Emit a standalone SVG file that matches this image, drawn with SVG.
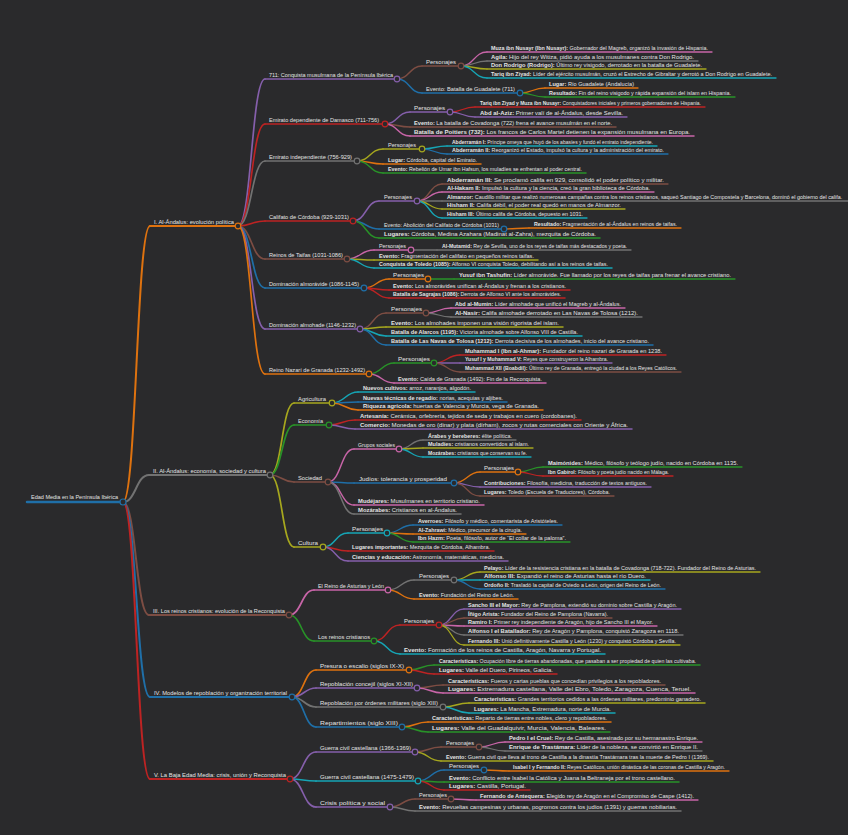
<svg xmlns="http://www.w3.org/2000/svg" width="848" height="835" viewBox="0 0 848 835">
<style>
.t{font-family:"Liberation Sans",Arial,sans-serif;font-size:5.4px;fill:#e4e4e4}
.r0{font-size:6px}
.h{font-weight:bold}
line,path{fill:none;stroke-linecap:round}
circle{fill:#2a2a2c;stroke-width:1.2}
.w0{stroke-width:2.5}.w1{stroke-width:2}.w2{stroke-width:1.7}.w3{stroke-width:1.5}.w4{stroke-width:1.3}
.kb{stroke:#1f6fa8}.ko{stroke:#de720f}.kg{stroke:#289228}.kr{stroke:#bd2323}.kp{stroke:#855fab}
.kn{stroke:#7d4d43}.kk{stroke:#c865a8}.ky{stroke:#727272}.kl{stroke:#a6a71e}.kc{stroke:#16a5b5}
</style>
<rect width="848" height="835" fill="#2a2a2c"/>
<g id="connectors">
<path class="ko w1" d="M123,502C136.5,502 136.5,226 150,226"/>
<path class="ky w1" d="M123,502C136,502 136,475 149,475"/>
<path class="kn w1" d="M123,502C136,502 136,615 149,615"/>
<path class="kb w1" d="M123,502C136.5,502 136.5,697 150,697"/>
<path class="kr w1" d="M123,502C136.5,502 136.5,779 150,779"/>
<path class="kp w2" d="M238,226C251.5,226 251.5,79 265,79"/>
<path class="kr w2" d="M238,226C251.5,226 251.5,124 265,124"/>
<path class="ky w2" d="M238,226C251.5,226 251.5,161 265,161"/>
<path class="kr w2" d="M238,226C251.5,226 251.5,221 265,221"/>
<path class="kn w2" d="M238,226C251.5,226 251.5,259 265,259"/>
<path class="kb w2" d="M238,226C251.5,226 251.5,288 265,288"/>
<path class="kp w2" d="M238,226C251.5,226 251.5,329 265,329"/>
<path class="ko w2" d="M238,226C251.5,226 251.5,374 265,374"/>
<path class="kn w3" d="M397,79C409.5,79 409.5,66 422,66"/>
<path class="kb w3" d="M397,79C409.5,79 409.5,93 422,93"/>
<path class="kk w4" d="M461,66C474,66 474,52 487,52"/>
<path class="ky w4" d="M461,66C474,66 474,61 487,61"/>
<path class="kl w4" d="M461,66C474,66 474,69 487,69"/>
<path class="kc w4" d="M461,66C474,66 474,78 487,78"/>
<path class="ko w4" d="M520,93C532.5,93 532.5,88 545,88"/>
<path class="kg w4" d="M520,93C532.5,93 532.5,97 545,97"/>
<path class="kp w3" d="M385,124C397.5,124 397.5,112 410,112"/>
<path class="kn w3" d="M385,124C397.5,124 397.5,127 410,127"/>
<path class="kk w3" d="M385,124C397.5,124 397.5,136 410,136"/>
<path class="kr w4" d="M450,112C462.5,112 462.5,107 475,107"/>
<path class="kp w4" d="M450,112C462.5,112 462.5,117 475,117"/>
<path class="kl w3" d="M357,161C370,161 370,149 383,149"/>
<path class="ko w3" d="M357,161C370,161 370,164 383,164"/>
<path class="kg w3" d="M357,161C370,161 370,173 383,173"/>
<path class="kc w4" d="M422,149C434.5,149 434.5,146 447,146"/>
<path class="kb w4" d="M422,149C434.5,149 434.5,154 447,154"/>
<path class="kp w3" d="M353,221C366,221 366,201 379,201"/>
<path class="kb w3" d="M353,221C366,221 366,229 379,229"/>
<path class="kg w3" d="M353,221C366,221 366,238 379,238"/>
<path class="kn w4" d="M417,201C429.5,201 429.5,184 442,184"/>
<path class="kk w4" d="M417,201C429.5,201 429.5,192 442,192"/>
<path class="ky w4" d="M417,201C429.5,201 429.5,201 442,201"/>
<path class="kl w4" d="M417,201C429.5,201 429.5,209 442,209"/>
<path class="kc w4" d="M417,201C429.5,201 429.5,218 442,218"/>
<path class="ko w4" d="M504,229C516.5,229 516.5,228 529,228"/>
<path class="kk w3" d="M347,259C360.5,259 360.5,250 374,250"/>
<path class="kl w3" d="M347,259C360.5,259 360.5,260 374,260"/>
<path class="kc w3" d="M347,259C360.5,259 360.5,268 374,268"/>
<path class="ky w4" d="M411,250C424,250 424,250 437,250"/>
<path class="ko w3" d="M364,288C376.5,288 376.5,279 389,279"/>
<path class="kr w3" d="M364,288C376.5,288 376.5,290 389,290"/>
<path class="kr w3" d="M364,288C376.5,288 376.5,298 389,298"/>
<path class="kg w4" d="M428,279C441,279 441,279 454,279"/>
<path class="kn w3" d="M360,329C373,329 373,313 386,313"/>
<path class="kl w3" d="M360,329C373,329 373,327 386,327"/>
<path class="kc w3" d="M360,329C373,329 373,336 386,336"/>
<path class="kb w3" d="M360,329C373,329 373,345 386,345"/>
<path class="kk w4" d="M426,313C438.5,313 438.5,308 451,308"/>
<path class="ky w4" d="M426,313C438.5,313 438.5,317 451,317"/>
<path class="kg w3" d="M369,374C381.5,374 381.5,363 394,363"/>
<path class="kk w3" d="M369,374C381.5,374 381.5,383 394,383"/>
<path class="kr w4" d="M434,363C447,363 447,355 460,355"/>
<path class="kp w4" d="M434,363C447,363 447,363 460,363"/>
<path class="kn w4" d="M434,363C447,363 447,372 460,372"/>
<path class="kl w2" d="M270,475C282,475 282,403 294,403"/>
<path class="kg w2" d="M270,475C282,475 282,425 294,425"/>
<path class="kn w2" d="M270,475C282,475 282,482 294,482"/>
<path class="kl w2" d="M270,475C282,475 282,547 294,547"/>
<path class="kc w3" d="M332,403C345,403 345,392 358,392"/>
<path class="kb w3" d="M332,403C345,403 345,402 358,402"/>
<path class="ko w3" d="M332,403C345,403 345,410 358,410"/>
<path class="kr w3" d="M329,425C342,425 342,420 355,420"/>
<path class="kp w3" d="M329,425C342,425 342,429 355,429"/>
<path class="kk w3" d="M328,482C341,482 341,449 354,449"/>
<path class="kb w3" d="M328,482C341,482 341,483 354,483"/>
<path class="kk w3" d="M328,482C341,482 341,505 354,505"/>
<path class="ky w3" d="M328,482C341,482 341,514 354,514"/>
<path class="ky w4" d="M399,449C411,449 411,440 423,440"/>
<path class="kl w4" d="M399,449C411,449 411,448 423,448"/>
<path class="kc w4" d="M399,449C411,449 411,457 423,457"/>
<path class="ko w4" d="M454,483C467,483 467,472 480,472"/>
<path class="kp w4" d="M454,483C467,483 467,487 480,487"/>
<path class="kn w4" d="M454,483C467,483 467,496 480,496"/>
<path class="kg w4" d="M518,472C530.5,472 530.5,467 543,467"/>
<path class="kr w4" d="M518,472C530.5,472 530.5,476 543,476"/>
<path class="kc w3" d="M323,547C335.5,547 335.5,533 348,533"/>
<path class="kr w3" d="M323,547C335.5,547 335.5,551 348,551"/>
<path class="kp w3" d="M323,547C335.5,547 335.5,561 348,561"/>
<path class="kb w4" d="M387,533C400,533 400,525 413,525"/>
<path class="ko w4" d="M387,533C400,533 400,534 413,534"/>
<path class="kg w4" d="M387,533C400,533 400,542 413,542"/>
<path class="kk w2" d="M289,615C301.5,615 301.5,590 314,590"/>
<path class="kg w2" d="M289,615C301.5,615 301.5,641 314,641"/>
<path class="ky w3" d="M388,590C401,590 401,580 414,580"/>
<path class="ko w3" d="M388,590C401,590 401,599 414,599"/>
<path class="kl w4" d="M454,580C467,580 467,572 480,572"/>
<path class="kc w4" d="M454,580C467,580 467,580 480,580"/>
<path class="kb w4" d="M454,580C467,580 467,589 480,589"/>
<path class="kr w3" d="M374,641C387,641 387,625 400,625"/>
<path class="kc w3" d="M374,641C387,641 387,654 400,654"/>
<path class="kp w4" d="M439,625C451.5,625 451.5,609 464,609"/>
<path class="kn w4" d="M439,625C451.5,625 451.5,618 464,618"/>
<path class="kk w4" d="M439,625C451.5,625 451.5,626 464,626"/>
<path class="ky w4" d="M439,625C451.5,625 451.5,635 464,635"/>
<path class="kl w4" d="M439,625C451.5,625 451.5,645 464,645"/>
<path class="ko w2" d="M292,697C304,697 304,670 316,670"/>
<path class="kp w2" d="M292,697C304,697 304,688 316,688"/>
<path class="ky w2" d="M292,697C304,697 304,707 316,707"/>
<path class="kb w2" d="M292,697C304,697 304,727 316,727"/>
<path class="kg w3" d="M409,670C421.5,670 421.5,665 434,665"/>
<path class="kr w3" d="M409,670C421.5,670 421.5,674 434,674"/>
<path class="kn w3" d="M417,688C430,688 430,685 443,685"/>
<path class="kk w3" d="M417,688C430,688 430,693 443,693"/>
<path class="kl w3" d="M443,707C456,707 456,703 469,703"/>
<path class="kc w3" d="M443,707C456,707 456,713 469,713"/>
<path class="ko w3" d="M402,727C415,727 415,722 428,722"/>
<path class="kg w3" d="M402,727C415,727 415,732 428,732"/>
<path class="kp w2" d="M290,779C303,779 303,752 316,752"/>
<path class="kc w2" d="M290,779C303,779 303,781 316,781"/>
<path class="kp w2" d="M290,779C303,779 303,807 316,807"/>
<path class="kn w3" d="M415,752C428,752 428,747 441,747"/>
<path class="kl w3" d="M415,752C428,752 428,761 441,761"/>
<path class="kk w4" d="M479,747C492,747 492,742 505,742"/>
<path class="ky w4" d="M479,747C492,747 492,751 505,751"/>
<path class="kb w3" d="M418,781C431,781 431,770 444,770"/>
<path class="kg w3" d="M418,781C431,781 431,782 444,782"/>
<path class="kr w3" d="M418,781C431,781 431,790 444,790"/>
<path class="ko w4" d="M484,770C496.5,770 496.5,771 509,771"/>
<path class="kn w3" d="M390,807C402.5,807 402.5,799 415,799"/>
<path class="ky w3" d="M390,807C402.5,807 402.5,811 415,811"/>
<path class="kk w4" d="M451,799C463.5,799 463.5,800 476,800"/>
</g>

<g id="root"><line class="kb w0" x1="27" y1="502" x2="123" y2="502"/><text class="t r0" x="31" y="499" textLength="87" lengthAdjust="spacingAndGlyphs">Edad Media en la Península Ibérica</text><circle class="kb" cx="123" cy="502" r="3"/></g>

<g id="n1"><line class="ko w1" x1="150" y1="226" x2="238" y2="226"/><text class="t" x="154" y="223.5" textLength="80" lengthAdjust="spacingAndGlyphs">I. Al-Ándalus: evolución política</text><circle class="ko" cx="238" cy="226" r="2.8"/></g>
<g id="n1a"><line class="kp w2" x1="265" y1="79" x2="397" y2="79"/><text class="t" x="269" y="76.5" textLength="124" lengthAdjust="spacingAndGlyphs">711: Conquista musulmana de la Península Ibérica</text><circle class="kp" cx="397" cy="79" r="2.8"/></g>
<g id="n1a1"><line class="kn w3" x1="422" y1="66" x2="461" y2="66"/><text class="t" x="426" y="63.5" textLength="30" lengthAdjust="spacingAndGlyphs">Personajes</text><circle class="kn" cx="461" cy="66" r="2.8"/></g>
<g id="n1a1a"><line class="kk w4" x1="487" y1="52" x2="712" y2="52"/><text class="t" x="491" y="49.5" textLength="217" lengthAdjust="spacingAndGlyphs"><tspan class="h">Muza ibn Nusayr (Ibn Nusayr):</tspan> Gobernador del Magreb, organizó la invasión de Hispania.</text></g>
<g id="n1a1b"><line class="ky w4" x1="487" y1="61" x2="698" y2="61"/><text class="t" x="491" y="58.5" textLength="203" lengthAdjust="spacingAndGlyphs"><tspan class="h">Agila:</tspan> Hijo del rey Witiza, pidió ayuda a los musulmanes contra Don Rodrigo.</text></g>
<g id="n1a1c"><line class="kl w4" x1="487" y1="69" x2="706" y2="69"/><text class="t" x="491" y="66.5" textLength="211" lengthAdjust="spacingAndGlyphs"><tspan class="h">Don Rodrigo (Rodrigo):</tspan> Último rey visigodo, derrotado en la batalla de Guadalete.</text></g>
<g id="n1a1d"><line class="kc w4" x1="487" y1="78" x2="776" y2="78"/><text class="t" x="491" y="75.5" textLength="281" lengthAdjust="spacingAndGlyphs"><tspan class="h">Tariq ibn Ziyad:</tspan> Líder del ejército musulmán, cruzó el Estrecho de Gibraltar y derrotó a Don Rodrigo en Guadalete.</text></g>
<g id="n1a2"><line class="kb w3" x1="422" y1="93" x2="520" y2="93"/><text class="t" x="426" y="90.5" textLength="89" lengthAdjust="spacingAndGlyphs">Evento: Batalla de Guadalete (711)</text><circle class="kb" cx="520" cy="93" r="2.8"/></g>
<g id="n1a2a"><line class="ko w4" x1="545" y1="88" x2="638" y2="88"/><text class="t" x="549" y="85.5" textLength="85" lengthAdjust="spacingAndGlyphs"><tspan class="h">Lugar:</tspan> Río Guadalete (Andalucía)</text></g>
<g id="n1a2b"><line class="kg w4" x1="545" y1="97" x2="735" y2="97"/><text class="t" x="549" y="94.5" textLength="182" lengthAdjust="spacingAndGlyphs"><tspan class="h">Resultado:</tspan> Fin del reino visigodo y rápida expansión del islam en Hispania.</text></g>

<g id="n1b"><line class="kr w2" x1="265" y1="124" x2="385" y2="124"/><text class="t" x="269" y="121.5" textLength="110" lengthAdjust="spacingAndGlyphs">Emirato dependiente de Damasco (711-756)</text><circle class="kr" cx="385" cy="124" r="2.8"/></g>
<g id="n1b1"><line class="kp w3" x1="410" y1="112" x2="450" y2="112"/><text class="t" x="414" y="109.5" textLength="31" lengthAdjust="spacingAndGlyphs">Personajes</text><circle class="kp" cx="450" cy="112" r="2.8"/></g>
<g id="n1b1a"><line class="kr w4" x1="475" y1="107" x2="705" y2="107"/><text class="t" x="480" y="104.5" textLength="221" lengthAdjust="spacingAndGlyphs"><tspan class="h">Tariq ibn Ziyad y Muza ibn Nusayr:</tspan> Conquistadores iniciales y primeros gobernadores de Hispania.</text></g>
<g id="n1b1b"><line class="kp w4" x1="475" y1="117" x2="627" y2="117"/><text class="t" x="480" y="114.5" textLength="143" lengthAdjust="spacingAndGlyphs"><tspan class="h">Abd al-Aziz:</tspan> Primer valí de al-Ándalus, desde Sevilla.</text></g>
<g id="n1b2"><line class="kn w3" x1="410" y1="127" x2="616" y2="127"/><text class="t" x="414" y="124.5" textLength="198" lengthAdjust="spacingAndGlyphs"><tspan class="h">Evento:</tspan> La batalla de Covadonga (722) frena el avance musulmán en el norte.</text></g>
<g id="n1b3"><line class="kk w3" x1="410" y1="136" x2="694" y2="136"/><text class="t" x="414" y="133.5" textLength="276" lengthAdjust="spacingAndGlyphs"><tspan class="h">Batalla de Poitiers (732):</tspan> Los francos de Carlos Martel detienen la expansión musulmana en Europa.</text></g>

<g id="n1c"><line class="ky w2" x1="265" y1="161" x2="357" y2="161"/><text class="t" x="269" y="158.5" textLength="83" lengthAdjust="spacingAndGlyphs">Emirato independiente (756-929)</text><circle class="ky" cx="357" cy="161" r="2.8"/></g>
<g id="n1c1"><line class="kl w3" x1="383" y1="149" x2="422" y2="149"/><text class="t" x="388" y="146.5" textLength="28" lengthAdjust="spacingAndGlyphs">Personajes</text><circle class="kl" cx="422" cy="149" r="2.8"/></g>
<g id="n1c1a"><line class="kc w4" x1="447" y1="146" x2="657" y2="146"/><text class="t" x="452" y="143.5" textLength="201" lengthAdjust="spacingAndGlyphs"><tspan class="h">Abderramán I:</tspan> Príncipe omeya que huyó de los abasíes y fundó el emirato independiente.</text></g>
<g id="n1c1b"><line class="kb w4" x1="447" y1="154" x2="668" y2="154"/><text class="t" x="452" y="151.5" textLength="212" lengthAdjust="spacingAndGlyphs"><tspan class="h">Abderramán II:</tspan> Reorganizó el Estado, impulsó la cultura y la administración del emirato.</text></g>
<g id="n1c2"><line class="ko w3" x1="383" y1="164" x2="481" y2="164"/><text class="t" x="388" y="161.5" textLength="89" lengthAdjust="spacingAndGlyphs"><tspan class="h">Lugar:</tspan> Córdoba, capital del Emirato.</text></g>
<g id="n1c3"><line class="kg w3" x1="383" y1="173" x2="586" y2="173"/><text class="t" x="388" y="170.5" textLength="194" lengthAdjust="spacingAndGlyphs"><tspan class="h">Evento:</tspan> Rebelión de Umar ibn Hafsun, los muladíes se enfrentan al poder central.</text></g>

<g id="n1d"><line class="kr w2" x1="265" y1="221" x2="353" y2="221"/><text class="t" x="269" y="218.5" textLength="80" lengthAdjust="spacingAndGlyphs">Califato de Córdoba (929-1031)</text><circle class="kr" cx="353" cy="221" r="2.8"/></g>
<g id="n1d1"><line class="kp w3" x1="379" y1="201" x2="417" y2="201"/><text class="t" x="384" y="198.5" textLength="28" lengthAdjust="spacingAndGlyphs">Personajes</text><circle class="kp" cx="417" cy="201" r="2.8"/></g>
<g id="n1d1a"><line class="kn w4" x1="442" y1="184" x2="668" y2="184"/><text class="t" x="447" y="181.5" textLength="217" lengthAdjust="spacingAndGlyphs"><tspan class="h">Abderramán III:</tspan> Se proclamó califa en 929, consolidó el poder político y militar.</text></g>
<g id="n1d1b"><line class="kk w4" x1="442" y1="192" x2="654" y2="192"/><text class="t" x="447" y="189.5" textLength="203" lengthAdjust="spacingAndGlyphs"><tspan class="h">Al-Hakam II:</tspan> Impulsó la cultura y la ciencia, creó la gran biblioteca de Córdoba.</text></g>
<g id="n1d1c"><line class="ky w4" x1="442" y1="201" x2="850" y2="201"/><text class="t" x="447" y="198.5"><tspan class="h">Almanzor:</tspan> Caudillo militar que realizó numerosas campañas contra los reinos cristianos, saqueó Santiago de Compostela y Barcelona, dominó el gobierno del califa.</text></g>
<g id="n1d1d"><line class="kl w4" x1="442" y1="209" x2="625" y2="209"/><text class="t" x="447" y="206.5" textLength="174" lengthAdjust="spacingAndGlyphs"><tspan class="h">Hisham II:</tspan> Califa débil, el poder real quedó en manos de Almanzor.</text></g>
<g id="n1d1e"><line class="kc w4" x1="442" y1="218" x2="587" y2="218"/><text class="t" x="447" y="215.5" textLength="136" lengthAdjust="spacingAndGlyphs"><tspan class="h">Hisham III:</tspan> Último califa de Córdoba, depuesto en 1031.</text></g>
<g id="n1d2"><line class="kb w3" x1="379" y1="229" x2="504" y2="229"/><text class="t" x="384" y="226.5" textLength="115" lengthAdjust="spacingAndGlyphs">Evento: Abolición del Califato de Córdoba (1031)</text><circle class="kb" cx="504" cy="229" r="2.8"/></g>
<g id="n1d2a"><line class="ko w4" x1="529" y1="228" x2="681" y2="228"/><text class="t" x="534" y="225.5" textLength="143" lengthAdjust="spacingAndGlyphs"><tspan class="h">Resultado:</tspan> Fragmentación de al-Ándalus en reinos de taifas.</text></g>
<g id="n1d3"><line class="kg w3" x1="379" y1="238" x2="600" y2="238"/><text class="t" x="384" y="235.5" textLength="212" lengthAdjust="spacingAndGlyphs"><tspan class="h">Lugares:</tspan> Córdoba, Medina Azahara (Madinat al-Zahra), mezquita de Córdoba.</text></g>

<g id="n1e"><line class="kn w2" x1="265" y1="259" x2="347" y2="259"/><text class="t" x="269" y="256.5" textLength="74" lengthAdjust="spacingAndGlyphs">Reinos de Taifas (1031-1086)</text><circle class="kn" cx="347" cy="259" r="2.8"/></g>
<g id="n1e1"><line class="kk w3" x1="374" y1="250" x2="411" y2="250"/><text class="t" x="379" y="247.5" textLength="27" lengthAdjust="spacingAndGlyphs">Personajes</text><circle class="kk" cx="411" cy="250" r="2.8"/></g>
<g id="n1e1a"><line class="ky w4" x1="437" y1="250" x2="631" y2="250"/><text class="t" x="442" y="247.5" textLength="185" lengthAdjust="spacingAndGlyphs"><tspan class="h">Al-Mutamid:</tspan> Rey de Sevilla, uno de los reyes de taifas más destacados y poeta.</text></g>
<g id="n1e2"><line class="kl w3" x1="374" y1="260" x2="538" y2="260"/><text class="t" x="379" y="257.5" textLength="155" lengthAdjust="spacingAndGlyphs"><tspan class="h">Evento:</tspan> Fragmentación del califato en pequeños reinos taifas.</text></g>
<g id="n1e3"><line class="kc w3" x1="374" y1="268" x2="612" y2="268"/><text class="t" x="379" y="265.5" textLength="229" lengthAdjust="spacingAndGlyphs"><tspan class="h">Conquista de Toledo (1085):</tspan> Alfonso VI conquista Toledo, debilitando así a los reinos de taifas.</text></g>

<g id="n1f"><line class="kb w2" x1="265" y1="288" x2="364" y2="288"/><text class="t" x="269" y="285.5" textLength="90" lengthAdjust="spacingAndGlyphs">Dominación almorávide (1086-1145)</text><circle class="kb" cx="364" cy="288" r="2.8"/></g>
<g id="n1f1"><line class="ko w3" x1="389" y1="279" x2="428" y2="279"/><text class="t" x="393" y="276.5" textLength="31" lengthAdjust="spacingAndGlyphs">Personajes</text><circle class="ko" cx="428" cy="279" r="2.8"/></g>
<g id="n1f1a"><line class="kg w4" x1="454" y1="279" x2="735" y2="279"/><text class="t" x="459" y="276.5" textLength="272" lengthAdjust="spacingAndGlyphs"><tspan class="h">Yusuf ibn Tashufin:</tspan> Líder almorávide. Fue llamado por los reyes de taifas para frenar el avance cristiano.</text></g>
<g id="n1f2"><line class="kr w3" x1="389" y1="290" x2="570" y2="290"/><text class="t" x="393" y="287.5" textLength="173" lengthAdjust="spacingAndGlyphs"><tspan class="h">Evento:</tspan> Los almorávides unifican al-Ándalus y frenan a los cristianos.</text></g>
<g id="n1f3"><line class="kr w3" x1="389" y1="298" x2="565" y2="298"/><text class="t" x="393" y="295.5" textLength="168" lengthAdjust="spacingAndGlyphs"><tspan class="h">Batalla de Sagrajas (1086):</tspan> Derrota de Alfonso VI ante los almorávides.</text></g>

<g id="n1g"><line class="kp w2" x1="265" y1="329" x2="360" y2="329"/><text class="t" x="269" y="326.5" textLength="87" lengthAdjust="spacingAndGlyphs">Dominación almohade (1146-1232)</text><circle class="kp" cx="360" cy="329" r="2.8"/></g>
<g id="n1g1"><line class="kn w3" x1="386" y1="313" x2="426" y2="313"/><text class="t" x="391" y="310.5" textLength="31" lengthAdjust="spacingAndGlyphs">Personajes</text><circle class="kn" cx="426" cy="313" r="2.8"/></g>
<g id="n1g1a"><line class="kk w4" x1="451" y1="308" x2="625" y2="308"/><text class="t" x="455" y="305.5" textLength="166" lengthAdjust="spacingAndGlyphs"><tspan class="h">Abd al-Mumin:</tspan> Líder almohade que unificó el Magreb y al-Ándalus.</text></g>
<g id="n1g1b"><line class="ky w4" x1="451" y1="317" x2="642" y2="317"/><text class="t" x="455" y="314.5" textLength="183" lengthAdjust="spacingAndGlyphs"><tspan class="h">Al-Nasir:</tspan> Califa almohade derrotado en Las Navas de Tolosa (1212).</text></g>
<g id="n1g2"><line class="kl w3" x1="386" y1="327" x2="563" y2="327"/><text class="t" x="391" y="324.5" textLength="168" lengthAdjust="spacingAndGlyphs"><tspan class="h">Evento:</tspan> Los almohades imponen una visión rigorista del islam.</text></g>
<g id="n1g3"><line class="kc w3" x1="386" y1="336" x2="582" y2="336"/><text class="t" x="391" y="333.5" textLength="187" lengthAdjust="spacingAndGlyphs"><tspan class="h">Batalla de Alarcos (1195):</tspan> Victoria almohade sobre Alfonso VIII de Castilla.</text></g>
<g id="n1g4"><line class="kb w3" x1="386" y1="345" x2="653" y2="345"/><text class="t" x="391" y="342.5" textLength="258" lengthAdjust="spacingAndGlyphs"><tspan class="h">Batalla de Las Navas de Tolosa (1212):</tspan> Derrota decisiva de los almohades, inicio del avance cristiano.</text></g>

<g id="n1h"><line class="ko w2" x1="265" y1="374" x2="369" y2="374"/><text class="t" x="269" y="371.5" textLength="96" lengthAdjust="spacingAndGlyphs">Reino Nazarí de Granada (1232-1492)</text><circle class="ko" cx="369" cy="374" r="2.8"/></g>
<g id="n1h1"><line class="kg w3" x1="394" y1="363" x2="434" y2="363"/><text class="t" x="398" y="360.5" textLength="32" lengthAdjust="spacingAndGlyphs">Personajes</text><circle class="kg" cx="434" cy="363" r="2.8"/></g>
<g id="n1h1a"><line class="kr w4" x1="460" y1="355" x2="666" y2="355"/><text class="t" x="465" y="352.5" textLength="197" lengthAdjust="spacingAndGlyphs"><tspan class="h">Muhammad I (Ibn al-Ahmar):</tspan> Fundador del reino nazarí de Granada en 1238.</text></g>
<g id="n1h1b"><line class="kp w4" x1="460" y1="363" x2="612" y2="363"/><text class="t" x="465" y="360.5" textLength="143" lengthAdjust="spacingAndGlyphs"><tspan class="h">Yusuf I y Muhammad V:</tspan> Reyes que construyeron la Alhambra.</text></g>
<g id="n1h1c"><line class="kn w4" x1="460" y1="372" x2="681" y2="372"/><text class="t" x="465" y="369.5" textLength="212" lengthAdjust="spacingAndGlyphs"><tspan class="h">Muhammad XII (Boabdil):</tspan> Último rey de Granada, entregó la ciudad a los Reyes Católicos.</text></g>
<g id="n1h2"><line class="kk w3" x1="394" y1="383" x2="546" y2="383"/><text class="t" x="398" y="380.5" textLength="144" lengthAdjust="spacingAndGlyphs"><tspan class="h">Evento:</tspan> Caída de Granada (1492): Fin de la Reconquista.</text></g>

<g id="n2"><line class="ky w1" x1="149" y1="475" x2="270" y2="475"/><text class="t" x="153" y="472.5" textLength="113" lengthAdjust="spacingAndGlyphs">II. Al-Ándalus: economía, sociedad y cultura</text><circle class="ky" cx="270" cy="475" r="2.8"/></g>
<g id="n2a"><line class="kl w2" x1="294" y1="403" x2="332" y2="403"/><text class="t" x="298" y="400.5" textLength="28" lengthAdjust="spacingAndGlyphs">Agricultura</text><circle class="kl" cx="332" cy="403" r="2.8"/></g>
<g id="n2a1"><line class="kc w3" x1="358" y1="392" x2="475" y2="392"/><text class="t" x="363" y="389.5" textLength="108" lengthAdjust="spacingAndGlyphs"><tspan class="h">Nuevos cultivos:</tspan> arroz, naranjos, algodón.</text></g>
<g id="n2a2"><line class="kb w3" x1="358" y1="402" x2="507" y2="402"/><text class="t" x="363" y="399.5" textLength="140" lengthAdjust="spacingAndGlyphs"><tspan class="h">Nuevas técnicas de regadío:</tspan> norias, acequias y aljibes.</text></g>
<g id="n2a3"><line class="ko w3" x1="358" y1="410" x2="543" y2="410"/><text class="t" x="363" y="407.5" textLength="176" lengthAdjust="spacingAndGlyphs"><tspan class="h">Riqueza agrícola:</tspan> huertas de Valencia y Murcia, vega de Granada.</text></g>
<g id="n2b"><line class="kg w2" x1="294" y1="425" x2="329" y2="425"/><text class="t" x="298" y="422.5" textLength="25" lengthAdjust="spacingAndGlyphs">Economía</text><circle class="kg" cx="329" cy="425" r="2.8"/></g>
<g id="n2b1"><line class="kr w3" x1="355" y1="420" x2="581" y2="420"/><text class="t" x="360" y="417.5" textLength="217" lengthAdjust="spacingAndGlyphs"><tspan class="h">Artesanía:</tspan> Cerámica, orfebrería, tejidos de seda y trabajos en cuero (cordobanes).</text></g>
<g id="n2b2"><line class="kp w3" x1="355" y1="429" x2="632" y2="429"/><text class="t" x="360" y="426.5" textLength="268" lengthAdjust="spacingAndGlyphs"><tspan class="h">Comercio:</tspan> Monedas de oro (dinar) y plata (dírham), zocos y rutas comerciales con Oriente y África.</text></g>
<g id="n2c"><line class="kn w2" x1="294" y1="482" x2="328" y2="482"/><text class="t" x="298" y="479.5" textLength="24" lengthAdjust="spacingAndGlyphs">Sociedad</text><circle class="kn" cx="328" cy="482" r="2.8"/></g>
<g id="n2c1"><line class="kk w3" x1="354" y1="449" x2="399" y2="449"/><text class="t" x="358" y="446.5" textLength="37" lengthAdjust="spacingAndGlyphs">Grupos sociales</text><circle class="kk" cx="399" cy="449" r="2.8"/></g>
<g id="n2c1a"><line class="ky w4" x1="423" y1="440" x2="516" y2="440"/><text class="t" x="428" y="437.5" textLength="84" lengthAdjust="spacingAndGlyphs"><tspan class="h">Árabes y bereberes:</tspan> élite política.</text></g>
<g id="n2c1b"><line class="kl w4" x1="423" y1="448" x2="533" y2="448"/><text class="t" x="428" y="445.5" textLength="101" lengthAdjust="spacingAndGlyphs"><tspan class="h">Muladíes:</tspan> cristianos convertidos al islam.</text></g>
<g id="n2c1c"><line class="kc w4" x1="423" y1="457" x2="531" y2="457"/><text class="t" x="428" y="454.5" textLength="99" lengthAdjust="spacingAndGlyphs"><tspan class="h">Mozárabes:</tspan> cristianos que conservan su fe.</text></g>
<g id="n2c2"><line class="kb w3" x1="354" y1="483" x2="454" y2="483"/><text class="t" x="359" y="480.5" textLength="88" lengthAdjust="spacingAndGlyphs">Judíos: tolerancia y prosperidad</text><circle class="kb" cx="454" cy="483" r="2.8"/></g>
<g id="n2c2a"><line class="ko w4" x1="480" y1="472" x2="518" y2="472"/><text class="t" x="484" y="469.5" textLength="30" lengthAdjust="spacingAndGlyphs">Personajes</text><circle class="ko" cx="518" cy="472" r="2.8"/></g>
<g id="n2c2a1"><line class="kg w4" x1="543" y1="467" x2="742" y2="467"/><text class="t" x="548" y="464.5" textLength="190" lengthAdjust="spacingAndGlyphs"><tspan class="h">Maimónides:</tspan> Médico, filósofo y teólogo judío, nacido en Córdoba en 1135.</text></g>
<g id="n2c2a2"><line class="kr w4" x1="543" y1="476" x2="673" y2="476"/><text class="t" x="548" y="473.5" textLength="121" lengthAdjust="spacingAndGlyphs"><tspan class="h">Ibn Gabirol:</tspan> Filósofo y poeta judío nacido en Málaga.</text></g>
<g id="n2c2b"><line class="kp w4" x1="480" y1="487" x2="651" y2="487"/><text class="t" x="484" y="484.5" textLength="163" lengthAdjust="spacingAndGlyphs"><tspan class="h">Contribuciones:</tspan> Filosofía, medicina, traducción de textos antiguos.</text></g>
<g id="n2c2c"><line class="kn w4" x1="480" y1="496" x2="614" y2="496"/><text class="t" x="484" y="493.5" textLength="126" lengthAdjust="spacingAndGlyphs"><tspan class="h">Lugares:</tspan> Toledo (Escuela de Traductores), Córdoba.</text></g>
<g id="n2c3"><line class="kk w3" x1="354" y1="505" x2="484" y2="505"/><text class="t" x="358" y="502.5" textLength="122" lengthAdjust="spacingAndGlyphs"><tspan class="h">Mudéjares:</tspan> Musulmanes en territorio cristiano.</text></g>
<g id="n2c4"><line class="ky w3" x1="354" y1="514" x2="461" y2="514"/><text class="t" x="358" y="511.5" textLength="99" lengthAdjust="spacingAndGlyphs"><tspan class="h">Mozárabes:</tspan> Cristianos en al-Ándalus.</text></g>
<g id="n2d"><line class="kl w2" x1="294" y1="547" x2="323" y2="547"/><text class="t" x="298" y="544.5" textLength="20" lengthAdjust="spacingAndGlyphs">Cultura</text><circle class="kl" cx="323" cy="547" r="2.8"/></g>
<g id="n2d1"><line class="kc w3" x1="348" y1="533" x2="387" y2="533"/><text class="t" x="352" y="530.5" textLength="31" lengthAdjust="spacingAndGlyphs">Personajes</text><circle class="kc" cx="387" cy="533" r="2.8"/></g>
<g id="n2d1a"><line class="kb w4" x1="413" y1="525" x2="562" y2="525"/><text class="t" x="418" y="522.5" textLength="140" lengthAdjust="spacingAndGlyphs"><tspan class="h">Averroes:</tspan> Filósofo y médico, comentarista de Aristóteles.</text></g>
<g id="n2d1b"><line class="ko w4" x1="413" y1="534" x2="526" y2="534"/><text class="t" x="418" y="531.5" textLength="104" lengthAdjust="spacingAndGlyphs"><tspan class="h">Al-Zahrawi:</tspan> Médico, precursor de la cirugía.</text></g>
<g id="n2d1c"><line class="kg w4" x1="413" y1="542" x2="570" y2="542"/><text class="t" x="418" y="539.5" textLength="148" lengthAdjust="spacingAndGlyphs"><tspan class="h">Ibn Hazm:</tspan> Poeta, filósofo, autor de “El collar de la paloma”.</text></g>
<g id="n2d2"><line class="kr w3" x1="348" y1="551" x2="494" y2="551"/><text class="t" x="352" y="548.5" textLength="138" lengthAdjust="spacingAndGlyphs"><tspan class="h">Lugares importantes:</tspan> Mezquita de Córdoba, Alhambra.</text></g>
<g id="n2d3"><line class="kp w3" x1="348" y1="561" x2="508" y2="561"/><text class="t" x="352" y="558.5" textLength="152" lengthAdjust="spacingAndGlyphs"><tspan class="h">Ciencias y educación:</tspan> Astronomía, matemáticas, medicina.</text></g>

<g id="n3"><line class="kn w1" x1="149" y1="615" x2="289" y2="615"/><text class="t" x="153" y="612.5" textLength="132" lengthAdjust="spacingAndGlyphs">III. Los reinos cristianos: evolución de la Reconquista</text><circle class="kn" cx="289" cy="615" r="2.8"/></g>
<g id="n3a"><line class="kk w2" x1="314" y1="590" x2="388" y2="590"/><text class="t" x="318" y="587.5" textLength="66" lengthAdjust="spacingAndGlyphs">El Reino de Asturias y León</text><circle class="kk" cx="388" cy="590" r="2.8"/></g>
<g id="n3a1"><line class="ky w3" x1="414" y1="580" x2="454" y2="580"/><text class="t" x="419" y="577.5" textLength="30" lengthAdjust="spacingAndGlyphs">Personajes</text><circle class="ky" cx="454" cy="580" r="2.8"/></g>
<g id="n3a1a"><line class="kl w4" x1="480" y1="572" x2="760" y2="572"/><text class="t" x="484" y="569.5" textLength="272" lengthAdjust="spacingAndGlyphs"><tspan class="h">Pelayo:</tspan> Líder de la resistencia cristiana en la batalla de Covadonga (718-722). Fundador del Reino de Asturias.</text></g>
<g id="n3a1b"><line class="kc w4" x1="480" y1="580" x2="650" y2="580"/><text class="t" x="484" y="577.5" textLength="162" lengthAdjust="spacingAndGlyphs"><tspan class="h">Alfonso III:</tspan> Expandió el reino de Asturias hasta el río Duero.</text></g>
<g id="n3a1c"><line class="kb w4" x1="480" y1="589" x2="665" y2="589"/><text class="t" x="484" y="586.5" textLength="177" lengthAdjust="spacingAndGlyphs"><tspan class="h">Ordoño II:</tspan> Trasladó la capital de Oviedo a León, origen del Reino de León.</text></g>
<g id="n3a2"><line class="ko w3" x1="414" y1="599" x2="518" y2="599"/><text class="t" x="419" y="596.5" textLength="95" lengthAdjust="spacingAndGlyphs"><tspan class="h">Evento:</tspan> Fundación del Reino de León.</text></g>
<g id="n3b"><line class="kg w2" x1="314" y1="641" x2="374" y2="641"/><text class="t" x="318" y="638.5" textLength="52" lengthAdjust="spacingAndGlyphs">Los reinos cristianos</text><circle class="kg" cx="374" cy="641" r="2.8"/></g>
<g id="n3b1"><line class="kr w3" x1="400" y1="625" x2="439" y2="625"/><text class="t" x="404" y="622.5" textLength="30" lengthAdjust="spacingAndGlyphs">Personajes</text><circle class="kr" cx="439" cy="625" r="2.8"/></g>
<g id="n3b1a"><line class="kp w4" x1="464" y1="609" x2="681" y2="609"/><text class="t" x="468" y="606.5" textLength="209" lengthAdjust="spacingAndGlyphs"><tspan class="h">Sancho III el Mayor:</tspan> Rey de Pamplona, extendió su dominio sobre Castilla y Aragón.</text></g>
<g id="n3b1b"><line class="kn w4" x1="464" y1="618" x2="612" y2="618"/><text class="t" x="468" y="615.5" textLength="140" lengthAdjust="spacingAndGlyphs"><tspan class="h">Íñigo Arista:</tspan> Fundador del Reino de Pamplona (Navarra).</text></g>
<g id="n3b1c"><line class="kk w4" x1="464" y1="626" x2="657" y2="626"/><text class="t" x="468" y="623.5" textLength="185" lengthAdjust="spacingAndGlyphs"><tspan class="h">Ramiro I:</tspan> Primer rey independiente de Aragón, hijo de Sancho III el Mayor.</text></g>
<g id="n3b1d"><line class="ky w4" x1="464" y1="635" x2="683" y2="635"/><text class="t" x="468" y="632.5" textLength="211" lengthAdjust="spacingAndGlyphs"><tspan class="h">Alfonso I el Batallador:</tspan> Rey de Aragón y Pamplona, conquistó Zaragoza en 1118.</text></g>
<g id="n3b1e"><line class="kl w4" x1="464" y1="645" x2="680" y2="645"/><text class="t" x="468" y="642.5" textLength="208" lengthAdjust="spacingAndGlyphs"><tspan class="h">Fernando III:</tspan> Unió definitivamente Castilla y León (1230) y conquistó Córdoba y Sevilla.</text></g>
<g id="n3b2"><line class="kc w3" x1="400" y1="654" x2="605" y2="654"/><text class="t" x="404" y="651.5" textLength="197" lengthAdjust="spacingAndGlyphs"><tspan class="h">Evento:</tspan> Formación de los reinos de Castilla, Aragón, Navarra y Portugal.</text></g>

<g id="n4"><line class="kb w1" x1="150" y1="697" x2="292" y2="697"/><text class="t" x="154" y="694.5" textLength="133" lengthAdjust="spacingAndGlyphs">IV. Modelos de repoblación y organización territorial</text><circle class="kb" cx="292" cy="697" r="2.8"/></g>
<g id="n4a"><line class="ko w2" x1="316" y1="670" x2="409" y2="670"/><text class="t" x="320" y="667.5" textLength="84" lengthAdjust="spacingAndGlyphs">Presura o escalio (siglos IX-X)</text><circle class="ko" cx="409" cy="670" r="2.8"/></g>
<g id="n4a1"><line class="kg w3" x1="434" y1="665" x2="700" y2="665"/><text class="t" x="439" y="662.5" textLength="257" lengthAdjust="spacingAndGlyphs"><tspan class="h">Características:</tspan> Ocupación libre de tierras abandonadas, que pasaban a ser propiedad de quien las cultivaba.</text></g>
<g id="n4a2"><line class="kr w3" x1="434" y1="674" x2="557" y2="674"/><text class="t" x="439" y="671.5" textLength="114" lengthAdjust="spacingAndGlyphs"><tspan class="h">Lugares:</tspan> Valle del Duero, Pirineos, Galicia.</text></g>
<g id="n4b"><line class="kp w2" x1="316" y1="688" x2="417" y2="688"/><text class="t" x="320" y="685.5" textLength="93" lengthAdjust="spacingAndGlyphs">Repoblación concejil (siglos XI-XII)</text><circle class="kp" cx="417" cy="688" r="2.8"/></g>
<g id="n4b1"><line class="kn w3" x1="443" y1="685" x2="665" y2="685"/><text class="t" x="448" y="682.5" textLength="213" lengthAdjust="spacingAndGlyphs"><tspan class="h">Características:</tspan> Fueros y cartas pueblas que concedían privilegios a los repobladores.</text></g>
<g id="n4b2"><line class="kk w3" x1="443" y1="693" x2="695" y2="693"/><text class="t" x="448" y="690.5" textLength="243" lengthAdjust="spacingAndGlyphs"><tspan class="h">Lugares:</tspan> Extremadura castellana, Valle del Ebro, Toledo, Zaragoza, Cuenca, Teruel.</text></g>
<g id="n4c"><line class="ky w2" x1="316" y1="707" x2="443" y2="707"/><text class="t" x="320" y="704.5" textLength="118" lengthAdjust="spacingAndGlyphs">Repoblación por órdenes militares (siglo XIII)</text><circle class="ky" cx="443" cy="707" r="2.8"/></g>
<g id="n4c1"><line class="kl w3" x1="469" y1="703" x2="705" y2="703"/><text class="t" x="474" y="700.5" textLength="227" lengthAdjust="spacingAndGlyphs"><tspan class="h">Características:</tspan> Grandes territorios cedidos a las órdenes militares, predominio ganadero.</text></g>
<g id="n4c2"><line class="kc w3" x1="469" y1="713" x2="615" y2="713"/><text class="t" x="474" y="710.5" textLength="137" lengthAdjust="spacingAndGlyphs"><tspan class="h">Lugares:</tspan> La Mancha, Extremadura, norte de Murcia.</text></g>
<g id="n4d"><line class="kb w2" x1="316" y1="727" x2="402" y2="727"/><text class="t" x="320" y="724.5" textLength="78" lengthAdjust="spacingAndGlyphs">Repartimientos (siglo XIII)</text><circle class="kb" cx="402" cy="727" r="2.8"/></g>
<g id="n4d1"><line class="ko w3" x1="428" y1="722" x2="611" y2="722"/><text class="t" x="432" y="719.5" textLength="175" lengthAdjust="spacingAndGlyphs"><tspan class="h">Características:</tspan> Reparto de tierras entre nobles, clero y repobladores.</text></g>
<g id="n4d2"><line class="kg w3" x1="428" y1="732" x2="610" y2="732"/><text class="t" x="432" y="729.5" textLength="174" lengthAdjust="spacingAndGlyphs"><tspan class="h">Lugares:</tspan> Valle del Guadalquivir, Murcia, Valencia, Baleares.</text></g>

<g id="n5"><line class="kr w1" x1="150" y1="779" x2="290" y2="779"/><text class="t" x="154" y="776.5" textLength="132" lengthAdjust="spacingAndGlyphs">V. La Baja Edad Media: crisis, unión y Reconquista</text><circle class="kr" cx="290" cy="779" r="2.8"/></g>
<g id="n5a"><line class="kp w2" x1="316" y1="752" x2="415" y2="752"/><text class="t" x="320" y="749.5" textLength="91" lengthAdjust="spacingAndGlyphs">Guerra civil castellana (1366-1369)</text><circle class="kp" cx="415" cy="752" r="2.8"/></g>
<g id="n5a1"><line class="kn w3" x1="441" y1="747" x2="479" y2="747"/><text class="t" x="446" y="744.5" textLength="28" lengthAdjust="spacingAndGlyphs">Personajes</text><circle class="kn" cx="479" cy="747" r="2.8"/></g>
<g id="n5a1a"><line class="kk w4" x1="505" y1="742" x2="702" y2="742"/><text class="t" x="509" y="739.5" textLength="189" lengthAdjust="spacingAndGlyphs"><tspan class="h">Pedro I el Cruel:</tspan> Rey de Castilla, asesinado por su hermanastro Enrique.</text></g>
<g id="n5a1b"><line class="ky w4" x1="505" y1="751" x2="702" y2="751"/><text class="t" x="509" y="748.5" textLength="189" lengthAdjust="spacingAndGlyphs"><tspan class="h">Enrique de Trastámara:</tspan> Líder de la nobleza, se convirtió en Enrique II.</text></g>
<g id="n5a2"><line class="kl w3" x1="441" y1="761" x2="713" y2="761"/><text class="t" x="446" y="758.5" textLength="263" lengthAdjust="spacingAndGlyphs"><tspan class="h">Evento:</tspan> Guerra civil que lleva al trono de Castilla a la dinastía Trastámara tras la muerte de Pedro I (1369).</text></g>
<g id="n5b"><line class="kc w2" x1="316" y1="781" x2="418" y2="781"/><text class="t" x="320" y="778.5" textLength="94" lengthAdjust="spacingAndGlyphs">Guerra civil castellana (1475-1479)</text><circle class="kc" cx="418" cy="781" r="2.8"/></g>
<g id="n5b1"><line class="kb w3" x1="444" y1="770" x2="484" y2="770"/><text class="t" x="449" y="767.5" textLength="30" lengthAdjust="spacingAndGlyphs">Personajes</text><circle class="kb" cx="484" cy="770" r="2.8"/></g>
<g id="n5b1a"><line class="ko w4" x1="509" y1="771" x2="729" y2="771"/><text class="t" x="513" y="768.5" textLength="212" lengthAdjust="spacingAndGlyphs"><tspan class="h">Isabel I y Fernando II:</tspan> Reyes Católicos, unión dinástica de las coronas de Castilla y Aragón.</text></g>
<g id="n5b2"><line class="kg w3" x1="444" y1="782" x2="679" y2="782"/><text class="t" x="449" y="779.5" textLength="226" lengthAdjust="spacingAndGlyphs"><tspan class="h">Evento:</tspan> Conflicto entre Isabel la Católica y Juana la Beltraneja por el trono castellano.</text></g>
<g id="n5b3"><line class="kr w3" x1="444" y1="790" x2="530" y2="790"/><text class="t" x="449" y="787.5" textLength="77" lengthAdjust="spacingAndGlyphs"><tspan class="h">Lugares:</tspan> Castilla, Portugal.</text></g>
<g id="n5c"><line class="kp w2" x1="316" y1="807" x2="390" y2="807"/><text class="t" x="320" y="804.5" textLength="65" lengthAdjust="spacingAndGlyphs">Crisis política y social</text><circle class="kp" cx="390" cy="807" r="2.8"/></g>
<g id="n5c1"><line class="kn w3" x1="415" y1="799" x2="451" y2="799"/><text class="t" x="419" y="796.5" textLength="28" lengthAdjust="spacingAndGlyphs">Personajes</text><circle class="kn" cx="451" cy="799" r="2.8"/></g>
<g id="n5c1a"><line class="kk w4" x1="476" y1="800" x2="698" y2="800"/><text class="t" x="480" y="797.5" textLength="214" lengthAdjust="spacingAndGlyphs"><tspan class="h">Fernando de Antequera:</tspan> Elegido rey de Aragón en el Compromiso de Caspe (1412).</text></g>
<g id="n5c2"><line class="ky w3" x1="415" y1="811" x2="681" y2="811"/><text class="t" x="419" y="808.5" textLength="258" lengthAdjust="spacingAndGlyphs"><tspan class="h">Evento:</tspan> Revueltas campesinas y urbanas, pogromos contra los judíos (1391) y guerras nobiliarias.</text></g>
</svg>
